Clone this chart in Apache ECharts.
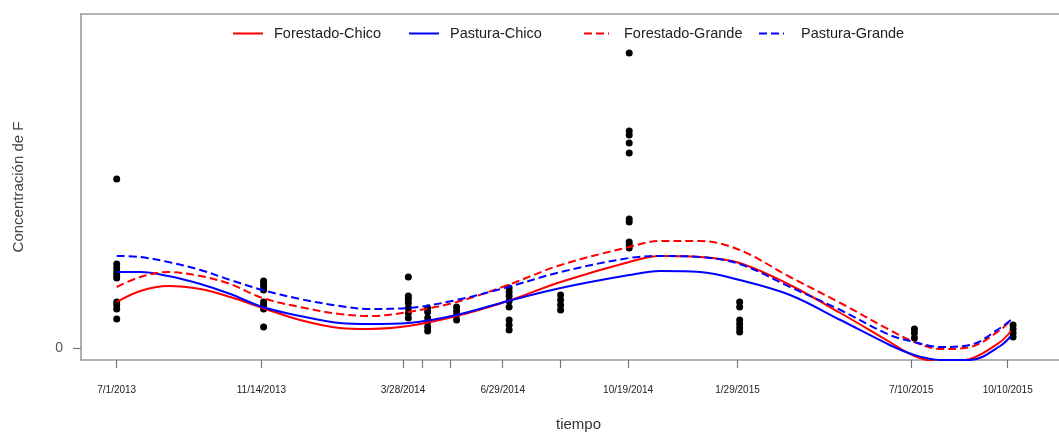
<!DOCTYPE html>
<html>
<head>
<meta charset="utf-8">
<script src="https://cdn.jsdelivr.net/npm/echarts@6/dist/echarts.min.js"></script>
<style>
html,body{margin:0;padding:0;background:#fff;}
#chart{width:1059px;height:433px;}
</style>
</head>
<body>
<div id="chart"></div>
<script>
// x values: days since 7/1/2013
const tickDays = [0, 135, 267, 285, 311, 360, 414, 477, 579, 741, 831];
const tickLabels = ['7/1/2013', '11/14/2013', '3/28/2014', '', '', '6/29/2014', '', '10/19/2014', '1/29/2015', '7/10/2015', '10/10/2015'];

// observed samples (Concentración de F), grouped by sampling day
const sampleDays = [0, 137, 272, 290, 317, 366, 414, 478, 581, 744, 836];
const sampleValues = [
  [1.69, 0.84, 0.80, 0.76, 0.73, 0.70, 0.46, 0.43, 0.39, 0.29],
  [0.67, 0.64, 0.61, 0.58, 0.46, 0.43, 0.39, 0.21],
  [0.71, 0.52, 0.49, 0.45, 0.40, 0.35, 0.30],
  [0.40, 0.36, 0.30, 0.26, 0.21, 0.17],
  [0.41, 0.37, 0.33, 0.28],
  [0.60, 0.56, 0.52, 0.47, 0.41, 0.28, 0.23, 0.18],
  [0.53, 0.48, 0.43, 0.38],
  [2.95, 2.17, 2.13, 2.05, 1.95, 1.29, 1.26, 1.06, 1.03, 1.00],
  [0.46, 0.41, 0.28, 0.24, 0.20, 0.16],
  [0.19, 0.15, 0.10],
  [0.23, 0.19, 0.15, 0.11]
];

// fitted curves
const curveDays = [0, 22, 48, 78, 106, 136, 171, 208, 236, 272, 317, 365, 414, 478, 507, 544, 581, 628, 675, 721, 744, 768, 796, 824, 834];
const forestadoChico = [0.46, 0.57, 0.62, 0.59, 0.51, 0.40, 0.28, 0.20, 0.19, 0.22, 0.32, 0.47, 0.66, 0.86, 0.92, 0.91, 0.85, 0.63, 0.35, 0.06, -0.08, -0.14, -0.11, 0.06, 0.17];
const pasturaChico   = [0.76, 0.76, 0.72, 0.64, 0.54, 0.41, 0.32, 0.25, 0.24, 0.25, 0.33, 0.47, 0.60, 0.73, 0.77, 0.76, 0.68, 0.53, 0.28, 0.03, -0.07, -0.12, -0.12, 0.02, 0.12];
const forestadoGrande = [0.61, 0.71, 0.76, 0.72, 0.64, 0.50, 0.41, 0.34, 0.32, 0.36, 0.46, 0.63, 0.83, 1.01, 1.07, 1.07, 0.98, 0.71, 0.45, 0.18, 0.06, -0.01, 0.01, 0.18, 0.28];
const pasturaGrande  = [0.92, 0.91, 0.86, 0.78, 0.68, 0.58, 0.49, 0.42, 0.39, 0.40, 0.48, 0.61, 0.76, 0.90, 0.92, 0.91, 0.84, 0.61, 0.38, 0.13, 0.06, 0.01, 0.03, 0.20, 0.28];

const seriesNames = ['Forestado-Chico', 'Pastura-Chico', 'Forestado-Grande', 'Pastura-Grande'];

const FONT = 'Liberation Sans, Arial, sans-serif';
const FRAME = { color: '#9a9a9a', width: 1.6 };
const labelMap = {};
tickDays.forEach((d, i) => { if (tickLabels[i]) labelMap[d] = tickLabels[i]; });
const labelDays = tickDays.filter((d, i) => tickLabels[i]);

const scatterData = [];
sampleDays.forEach((d, i) => sampleValues[i].forEach(v => scatterData.push([d, v])));
const pair = arr => curveDays.map((d, i) => [d, arr[i]]);

const lineSeries = (name, data, color, dashed) => ({
  name, type: 'line', data: pair(data), smooth: 0.35, symbol: 'none', z: 3,
  lineStyle: { color, width: 2, type: dashed ? [8, 4] : 'solid' },
  itemStyle: { color }
});

const legendAt = (name, left, w, pad) => ({
  data: [name], left, top: 26, padding: 0, itemWidth: w, itemHeight: 14,
  itemStyle: { opacity: 0, color: 'rgba(0,0,0,0)', borderWidth: 0 },
  textStyle: { fontFamily: FONT, fontSize: 14.5, color: '#222', padding: [0, 0, 0, pad] }
});

const chart = echarts.init(document.getElementById('chart'), null, { renderer: 'canvas' });
chart.setOption({
  animation: false,
  backgroundColor: '#fff',
  grid: { left: 81, top: 14, width: 995, height: 346, outerBoundsMode: 'none', containLabel: false, show: false },
  legend: [
    legendAt(seriesNames[0], 232, 30, 6),
    legendAt(seriesNames[1], 408, 30, 6),
    legendAt(seriesNames[2], 583, 25, 10),
    legendAt(seriesNames[3], 758, 25, 12)
  ],
  xAxis: [{
    type: 'value', min: -33.3, max: 894.7, position: 'bottom',
    name: 'tiempo', nameLocation: 'middle', nameGap: 57,
    nameTextStyle: { fontFamily: FONT, fontSize: 15, color: '#333' },
    axisLine: { show: true, onZero: false, lineStyle: FRAME },
    splitLine: { show: false },
    axisTick: { show: true, inside: false, customValues: tickDays, length: 8, lineStyle: { color: '#777', width: 1.2 } },
    axisLabel: { customValues: labelDays, formatter: v => labelMap[v] || '', margin: 25, fontFamily: FONT, fontSize: 10, color: '#222' }
  }, {
    type: 'value', min: -33.3, max: 894.7, position: 'top',
    axisLine: { show: true, onZero: false, lineStyle: FRAME },
    splitLine: { show: false }, axisTick: { show: false }, axisLabel: { show: false }
  }],
  yAxis: {
    type: 'value', min: -0.12, max: 3.34, position: 'left',
    name: 'Concentración de F', nameLocation: 'middle', nameGap: 55,
    nameTextStyle: { fontFamily: FONT, fontSize: 15, color: '#444' },
    axisLine: { show: true, onZero: false, lineStyle: FRAME },
    splitLine: { show: false },
    axisTick: { show: true, inside: false, customValues: [0], length: 8, lineStyle: { color: '#777', width: 1.2 } },
    axisLabel: { customValues: [0], margin: 18, fontFamily: FONT, fontSize: 14, color: '#555' }
  },
  series: [
    { name: 'obs', type: 'scatter', data: scatterData, symbolSize: 7, itemStyle: { color: '#000', opacity: 1 }, z: 2 },
    lineSeries(seriesNames[0], forestadoChico, '#ff0000', false),
    lineSeries(seriesNames[1], pasturaChico, '#0000ff', false),
    lineSeries(seriesNames[2], forestadoGrande, '#ff0000', true),
    lineSeries(seriesNames[3], pasturaGrande, '#0000ff', true)
  ]
});
</script>
</body>
</html>
